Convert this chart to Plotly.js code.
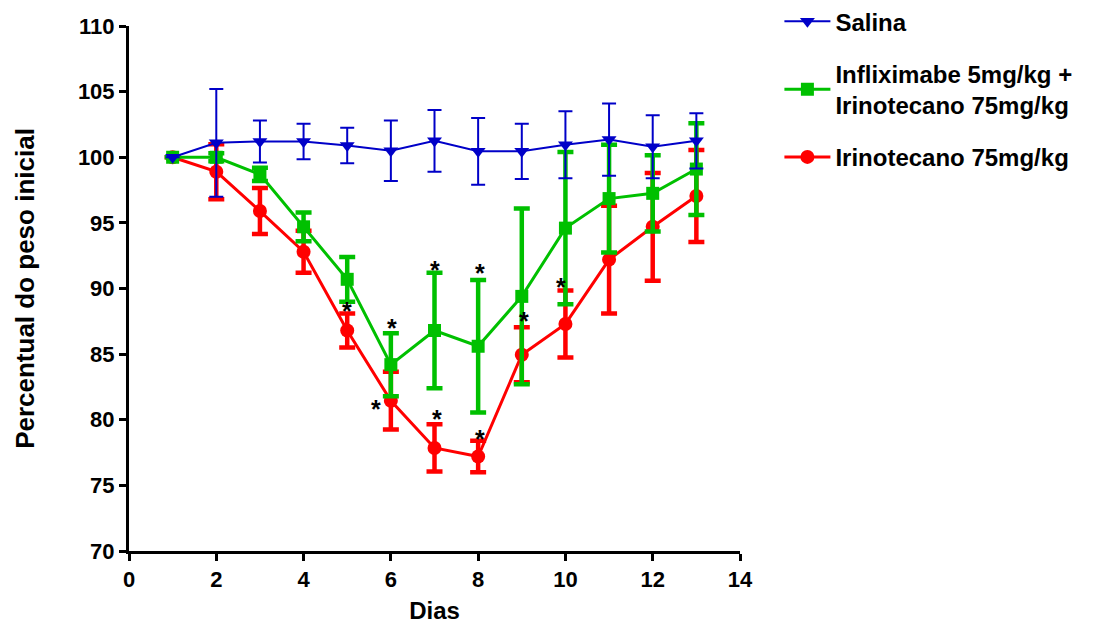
<!DOCTYPE html>
<html>
<head>
<meta charset="utf-8">
<script src="https://cdn.plot.ly/plotly-3.0.1.min.js"></script>
<style>
html,body{margin:0;padding:0;background:#fff;}
#chart{width:1094px;height:624px;}
</style>
</head>
<body>
<div id="chart"></div>
<script>
// ---- data ----
var days = [1, 2, 3, 4, 5, 6, 7, 8, 9, 10, 11, 12, 13];

var seriesNames = ["Salina", "Infliximabe 5mg/kg +<br>Irinotecano 75mg/kg", "Irinotecano 75mg/kg"];

var salinaMean = [100, 101.1, 101.2, 101.2, 100.9, 100.5, 101.25, 100.45, 100.45, 100.95, 101.35, 100.8, 101.25];
var salinaErr  = [0, 4.1, 1.6, 1.35, 1.35, 2.3, 2.35, 2.55, 2.1, 2.55, 2.75, 2.4, 2.1];

var inflixMean = [100, 100, 98.7, 94.7, 90.7, 84.2, 86.8, 85.6, 89.4, 94.6, 96.85, 97.25, 99.1];
var inflixErr  = [0, 0.3, 0.5, 1.1, 1.7, 2.4, 4.4, 5.05, 6.7, 5.8, 4.1, 2.9, 3.5];

var irinoMean = [100, 98.9, 95.9, 92.8, 86.8, 81.45, 77.85, 77.2, 84.95, 87.3, 92.2, 94.7, 97.05];
var irinoErr  = [0, 2.1, 1.75, 1.6, 1.3, 2.2, 1.8, 1.2, 2.1, 2.55, 4.1, 4.1, 3.5];

// significance markers (*)
var sigX = [5.0, 6.02, 5.65, 7.0, 7.05, 8.04, 8.04, 9.04, 9.89];
var sigY = [88.72, 87.45, 81.31, 91.85, 80.52, 91.64, 78.99, 87.96, 90.58];
var sigLabel = "*";

var xTickVals = [0, 2, 4, 6, 8, 10, 12, 14];
var yTickVals = [70, 75, 80, 85, 90, 95, 100, 105, 110];

var xTitle = "Dias";
var yTitle = "Percentual do peso inicial";

// ---- styles ----
var FONT = "Arial, 'Liberation Sans', Helvetica, sans-serif";
var BLUE = "#0000C8", GREEN = "#00C000", RED = "#FF0000";

// drawn red -> green -> blue (blue on top); legend ordered by legendrank
var traces = [
  {
    x: days, y: irinoMean, name: seriesNames[2], type: "scatter", mode: "lines+markers",
    legendgroup: "c", legendrank: 3,
    line: {color: RED, width: 3},
    marker: {symbol: "circle", size: 14, color: RED},
    error_y: {type: "data", array: irinoErr, visible: true, color: RED, thickness: 4.5, width: 8}
  },
  {
    x: days, y: inflixMean, name: seriesNames[1], type: "scatter", mode: "lines+markers",
    legendgroup: "b", legendrank: 2,
    line: {color: GREEN, width: 3},
    marker: {symbol: "square", size: 13, color: GREEN},
    error_y: {type: "data", array: inflixErr, visible: true, color: GREEN, thickness: 4.5, width: 8}
  },
  {
    x: days, y: salinaMean, name: seriesNames[0], type: "scatter", mode: "lines+markers",
    legendgroup: "a", legendrank: 1,
    line: {color: BLUE, width: 2},
    marker: {symbol: "triangle-down", size: 13, color: BLUE},
    error_y: {type: "data", array: salinaErr, visible: true, color: BLUE, thickness: 2, width: 7}
  }
];

var annotations = sigX.map(function (x, i) {
  return {
    x: x, y: sigY[i], xref: "x", yref: "y", text: sigLabel, showarrow: false,
    xanchor: "center", yanchor: "middle", yshift: -6,
    font: {family: FONT, size: 25, color: "#000", weight: "bold"}
  };
});

var layout = {
  width: 1094, height: 624,
  paper_bgcolor: "#fff", plot_bgcolor: "#fff",
  margin: {l: 129, r: 354, t: 26, b: 73, pad: 0, autoexpand: false},
  font: {family: FONT, color: "#000"},
  showlegend: true,
  legend: {
    x: 1.0645, y: 1.051, xanchor: "left", yanchor: "top",
    traceorder: "grouped", tracegroupgap: 18,
    font: {family: FONT, size: 24, color: "#000", weight: "bold"},
    bgcolor: "rgba(0,0,0,0)", itemwidth: 46
  },
  xaxis: {
    range: [0, 14], tickvals: xTickVals, ticktext: xTickVals.map(String),
    showline: true, linecolor: "#000", linewidth: 3, mirror: false,
    ticks: "outside", ticklen: 7, tickwidth: 3, tickcolor: "#000",
    showgrid: false, zeroline: false,
    tickfont: {family: FONT, size: 22, color: "#000", weight: "bold"},
    title: {text: xTitle, font: {family: FONT, size: 24, color: "#000", weight: "bold"}, standoff: 14}
  },
  yaxis: {
    range: [70, 110], tickvals: yTickVals, ticktext: yTickVals.map(String),
    showline: true, linecolor: "#000", linewidth: 3, mirror: false,
    ticks: "outside", ticklen: 7, tickwidth: 3, tickcolor: "#000",
    showgrid: false, zeroline: false,
    tickfont: {family: FONT, size: 22, color: "#000", weight: "bold"},
    title: {text: yTitle, font: {family: FONT, size: 26, color: "#000", weight: "bold"}, standoff: 36}
  },
  annotations: annotations
};

Plotly.newPlot("chart", traces, layout, {displayModeBar: false, staticPlot: true});
</script>
</body>
</html>
